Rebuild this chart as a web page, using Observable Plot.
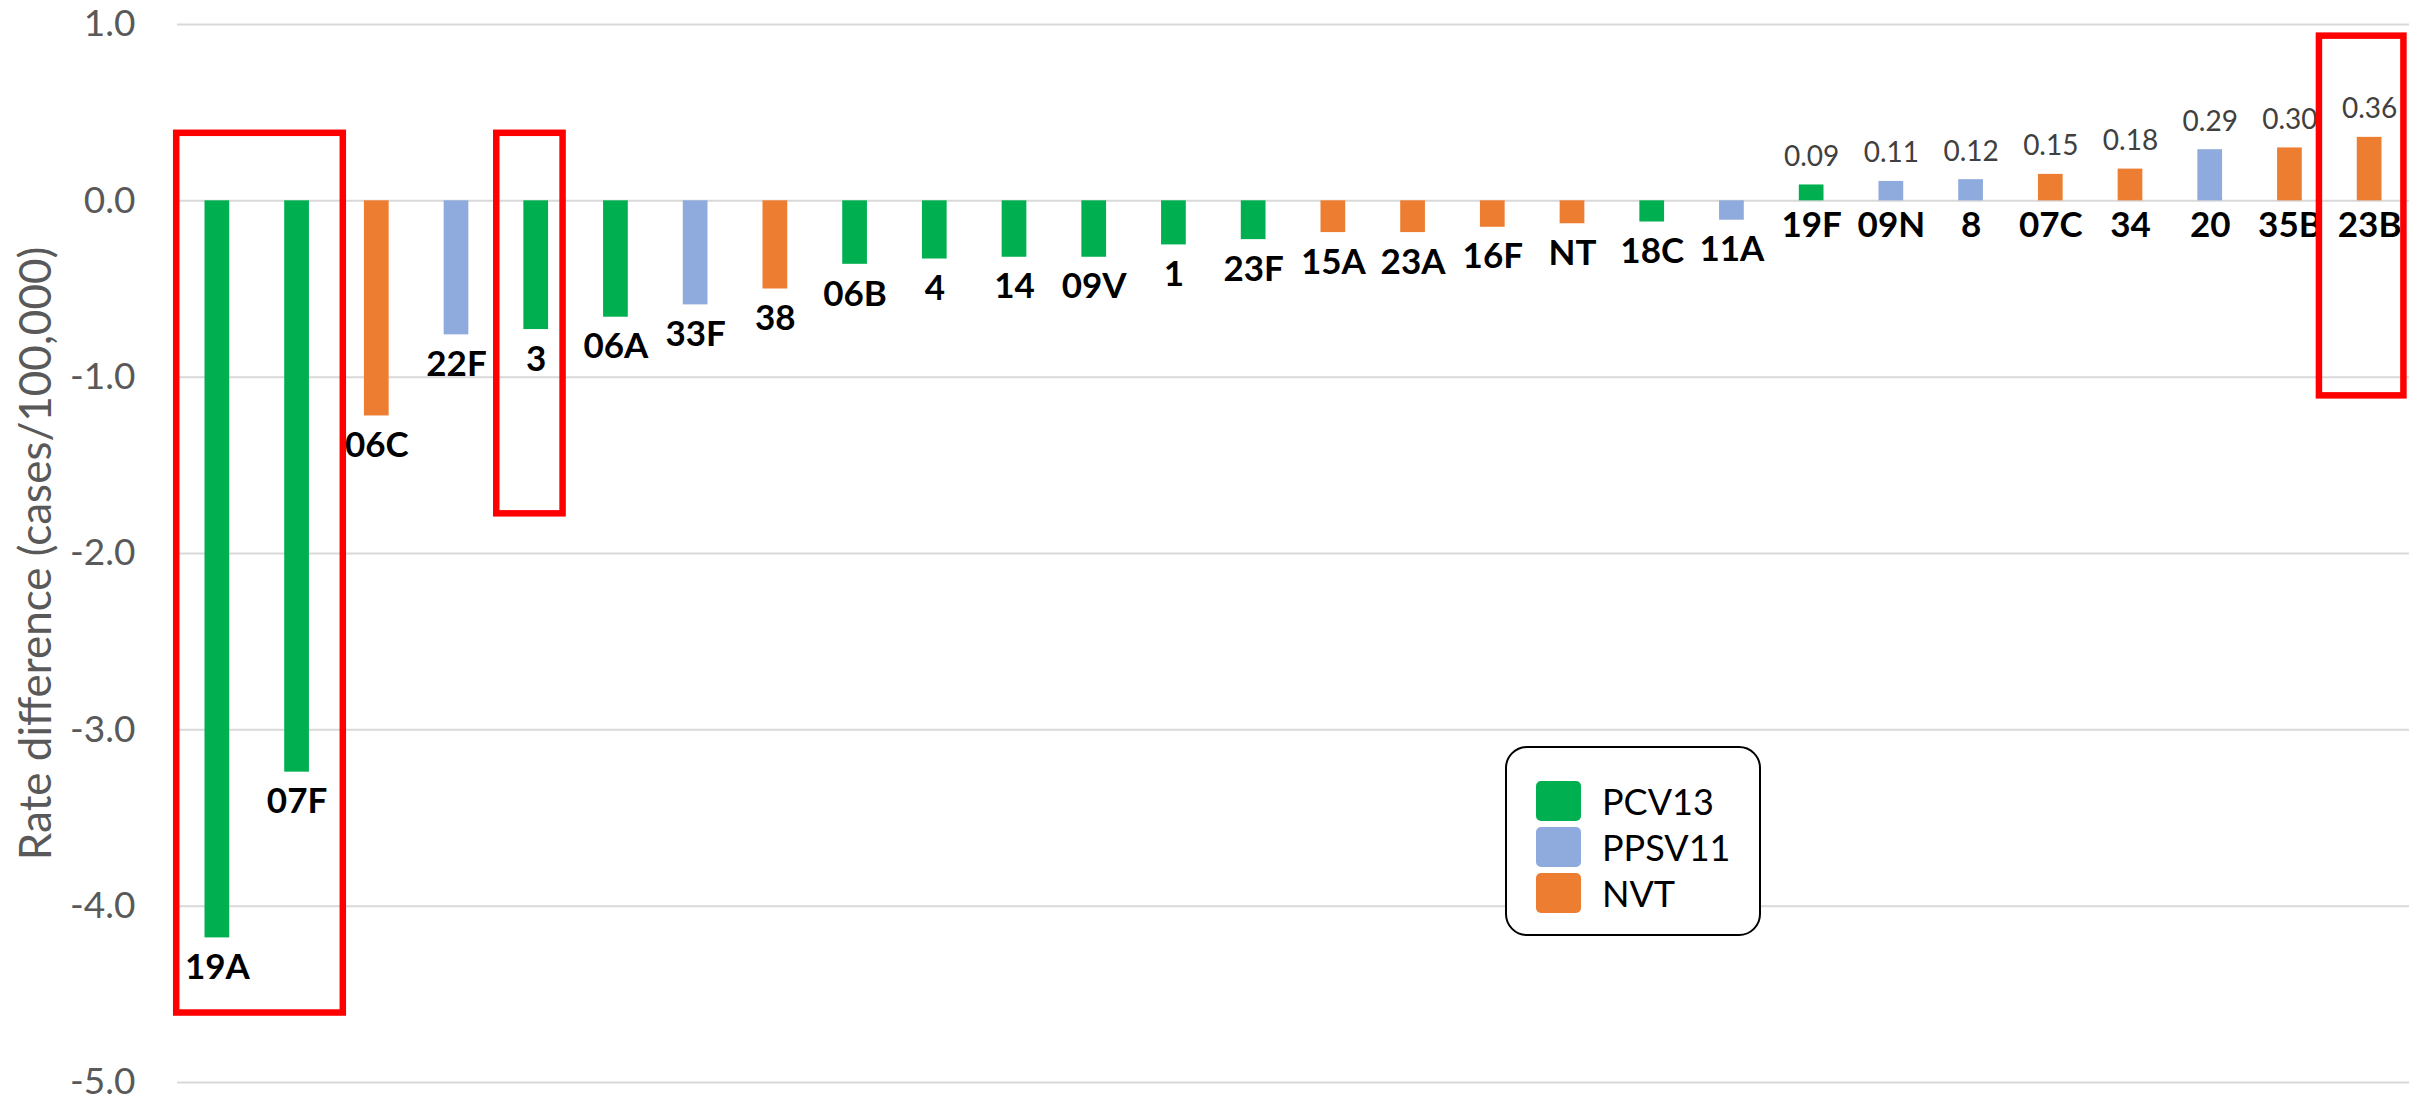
<!DOCTYPE html>
<html>
<head>
<meta charset="utf-8">
<script src="https://cdn.jsdelivr.net/npm/d3@7"></script>
<script src="https://cdn.jsdelivr.net/npm/@observablehq/plot@0.6"></script>
<style>
  html, body { margin: 0; padding: 0; background: #fff; }
  #wrap { position: relative; width: 2417px; height: 1099px; overflow: hidden; }
  #legend {
    position: absolute; left: 1505px; top: 746px; width: 256px; height: 190px;
    box-sizing: border-box; border: 2px solid #000; border-radius: 22px;
    padding: 33px 0 0 29px; background: #fff;
  }
  .lg-swatches { font-family: Lato, sans-serif; font-size: 36px; margin: 0; color: #000; }
  .lg-swatch { padding-bottom: 0; margin-bottom: 6px; height: 40px; line-height: 40px; }
  .lg-swatch > svg { margin-right: 21px; }
  .lg-swatch rect { rx: 5px; ry: 5px; }
  .lg-swatch-label { overflow: visible !important; text-overflow: clip !important; }
</style>
</head>
<body>
<div id="wrap"></div>
<script>
// ---- data ----
const serotypes = ["19A","07F","06C","22F","3","06A","33F","38","06B","4","14","09V","1","23F","15A","23A","16F","NT","18C","11A","19F","09N","8","07C","34","20","35B","23B"];
const rateDiff = [-4.18,-3.24,-1.22,-0.76,-0.73,-0.66,-0.59,-0.50,-0.36,-0.33,-0.32,-0.32,-0.25,-0.22,-0.18,-0.18,-0.15,-0.13,-0.12,-0.11,0.09,0.11,0.12,0.15,0.18,0.29,0.30,0.36];
const vaccineGroup = ["PCV13","PCV13","NVT","PPSV11","PCV13","PCV13","PPSV11","NVT","PCV13","PCV13","PCV13","PCV13","PCV13","PCV13","NVT","NVT","NVT","NVT","PCV13","PPSV11","PCV13","PPSV11","PPSV11","NVT","NVT","PPSV11","NVT","NVT"];
const groups = ["PCV13","PPSV11","NVT"];
const groupColors = ["#00B050","#8FAADC","#ED7D31"];
const yTicks = [1,0,-1,-2,-3,-4,-5];
const yTitle = "Rate difference (cases/100,000)";
// highlight boxes (category-index units on x, rate units on y)
const boxFrom   = [-0.51, 3.505, 26.37];
const boxTo     = [1.58, 4.337, 27.43];
const boxTop    = [0.383, 0.383, 0.934];
const boxBottom = [-4.606, -1.775, -1.106];

const rows = serotypes.map((s, i) => ({serotype: s, i, value: rateDiff[i], group: vaccineGroup[i]}));
const boxes = boxFrom.map((f, k) => ({x1: f, x2: boxTo[k], y1: boxBottom[k], y2: boxTop[k]}));
const halfBar = 0.155;

const chart = Plot.plot({
  width: 2417,
  height: 1099,
  marginLeft: 177,
  marginRight: 8,
  marginTop: 24,
  marginBottom: 17,
  style: {fontFamily: "Lato, sans-serif", background: "#fff", overflow: "visible"},
  x: {type: "linear", domain: [-0.5, serotypes.length - 0.5], axis: null},
  y: {domain: [-5, 1]},
  color: {domain: groups, range: groupColors},
  marks: [
    Plot.ruleY(yTicks, {stroke: "#D9D9D9", strokeWidth: 2}),
    Plot.axisY(yTicks, {tickSize: 0, tickPadding: 42, tickFormat: d => d.toFixed(1), fontSize: 37, fill: "#595959", label: null}),
    Plot.text([yTitle], {frameAnchor: "left", textAnchor: "middle", lineAnchor: "middle", rotate: -90, dx: -141, dy: 0, fontSize: 44, fill: "#595959"}),
    Plot.rectY(rows, {x1: d => d.i - halfBar, x2: d => d.i + halfBar, y1: 0, y2: "value", fill: "group"}),
    Plot.text(rows.filter(d => d.value < 0), {x: "i", y: "value", text: "serotype", dy: 30, fontSize: 35, fontWeight: "bold", fill: "#000"}),
    Plot.text(rows.filter(d => d.value > 0), {x: "i", y: 0, text: "serotype", dy: 25, fontSize: 35, fontWeight: "bold", fill: "#000"}),
    Plot.text(rows.filter(d => d.value > 0), {x: "i", y: "value", text: d => d.value.toFixed(2), dy: -28, fontSize: 28, fill: "#404040"}),
    Plot.rect(boxes, {x1: "x1", x2: "x2", y1: "y1", y2: "y2", fill: "none", stroke: "#FF0000", strokeWidth: 6.5})
  ]
});

const wrap = document.getElementById("wrap");
wrap.appendChild(chart);

const legendBox = document.createElement("div");
legendBox.id = "legend";
legendBox.appendChild(Plot.legend({
  color: {type: "ordinal", domain: groups, range: groupColors, legend: "swatches"},
  legend: "swatches",
  columns: 1,
  swatchWidth: 45,
  swatchHeight: 40,
  className: "lg"
}));
wrap.appendChild(legendBox);
</script>
</body>
</html>
